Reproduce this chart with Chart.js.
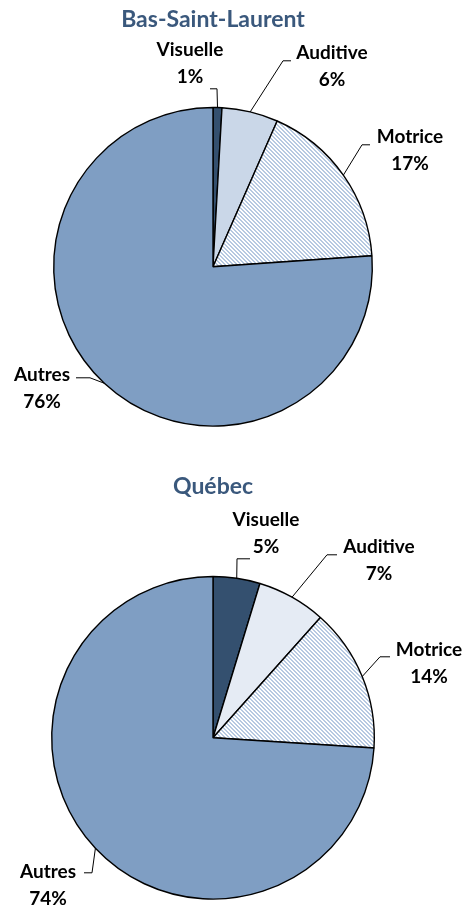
<!DOCTYPE html>
<html>
<head>
<meta charset="utf-8">
<script src="https://cdn.jsdelivr.net/npm/chart.js@4.4.1/dist/chart.umd.min.js"></script>
<style>
  body { margin: 0; background: #fff; }
  #wrap { position: relative; width: 470px; height: 906px; }
  canvas { position: absolute; left: 0; }
  #bsl { top: 0; }
  #qc { top: 453px; }
</style>
</head>
<body>
<div id="wrap">
  <canvas id="bsl" width="470" height="453"></canvas>
  <canvas id="qc" width="470" height="453"></canvas>
</div>
<script>
// categories + values
const categories = ['Visuelle', 'Auditive', 'Motrice', 'Autres'];
const bslValues = [0.9, 5.7, 17.3, 76.1];
const qcValues = [4.7, 6.9, 14.4, 74.0];
const titles = ['Bas-Saint-Laurent', 'Québec'];

// hatch pattern for "Motrice"
function makeHatch() {
  const c = document.createElement('canvas');
  c.width = 4; c.height = 4;
  const g = c.getContext('2d');
  g.fillStyle = '#ffffff';
  g.fillRect(0, 0, 4, 4);
  g.fillStyle = '#b7c9e1';
  for (let y = 0; y < 4; y++) {
    g.fillRect(y % 4, y, 1, 1);
    g.fillRect((y + 1) % 4, y, 1, 1);
  }
  return g.createPattern(c, 'repeat');
}
const hatch = makeHatch();

// label layout: offsets from pie centre for text, elbow and end of leader line
const bslLabels = [
  { text: [-23, -217], elbow: [4, -178], end: [-3, -178] },
  { text: [119, -214], elbow: [70, -206], end: [78, -206] },
  { text: [197, -130], elbow: [149, -122], end: [157, -122] },
  { text: [-171, 108], elbow: [-123, 111], end: [-137, 111] }
];
const qcLabels = [
  { text: [53, -218], elbow: [24, -179], end: [37, -179] },
  { text: [166, -191], elbow: [114, -183], end: [124, -183] },
  { text: [216, -88], elbow: [167, -81], end: [177, -81] },
  { text: [-165, 134], elbow: [-121, 135], end: [-129, 135] }
];

const pieLabels = {
  id: 'pieLabels',
  afterDatasetsDraw(chart, args, opts) {
    const ctx = chart.ctx;
    const meta = chart.getDatasetMeta(0);
    const values = chart.data.datasets[0].data;
    ctx.save();
    meta.data.forEach((arc, i) => {
      const p = arc.getProps(['x', 'y', 'startAngle', 'endAngle', 'outerRadius'], true);
      const mid = (p.startAngle + p.endAngle) / 2;
      const lay = opts.layout[i];
      const sx = p.x + Math.cos(mid) * p.outerRadius;
      const sy = p.y + Math.sin(mid) * p.outerRadius;
      ctx.strokeStyle = '#000';
      ctx.lineWidth = 1;
      ctx.beginPath();
      ctx.moveTo(sx, sy);
      ctx.lineTo(p.x + lay.elbow[0], p.y + lay.elbow[1]);
      ctx.lineTo(p.x + lay.end[0], p.y + lay.end[1]);
      ctx.stroke();
      ctx.fillStyle = '#000';
      ctx.font = 'bold 19px Lato';
      ctx.textAlign = 'center';
      ctx.textBaseline = 'middle';
      const tx = p.x + lay.text[0], ty = p.y + lay.text[1];
      ctx.fillText(chart.data.labels[i], tx, ty);
      ctx.fillText(Math.round(values[i]) + '%', tx, ty + 27);
    });
    ctx.restore();
  }
};

function makePie(id, title, values, auditiveColor, labelLayout, padding, titlePad) {
  return new Chart(document.getElementById(id), {
    type: 'pie',
    data: {
      labels: categories,
      datasets: [{
        data: values,
        backgroundColor: ['#34506f', auditiveColor, hatch, '#7f9ec3'],
        borderColor: '#000',
        borderWidth: 1.4
      }]
    },
    options: {
      responsive: false,
      animation: false,
      layout: { padding: padding },
      plugins: {
        legend: { display: false },
        tooltip: { enabled: false },
        title: {
          display: true,
          text: title,
          color: '#3a587c',
          font: { family: 'Lato', size: 23, weight: 'bold', lineHeight: 1.2 },
          padding: titlePad
        },
        pieLabels: { layout: labelLayout }
      }
    },
    plugins: [pieLabels]
  });
}

makePie('bsl', titles[0], bslValues, '#cad7e8', bslLabels,
  { left: 53, right: 97, top: 0, bottom: 26 }, { top: 6, bottom: 73 });
makePie('qc', titles[1], qcValues, '#e5ebf4', qcLabels,
  { left: 51, right: 95, top: 0, bottom: 6 }, { top: 20, bottom: 75 });
</script>
</body>
</html>
